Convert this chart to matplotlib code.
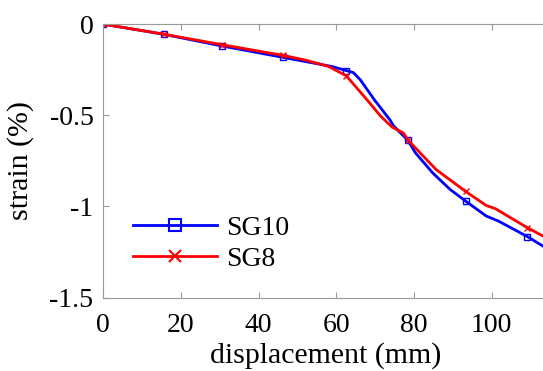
import matplotlib
matplotlib.use("Agg")
from matplotlib import pyplot as plt

# Strain gauge readings against displacement.
disp_sg10 = [0, 15.6, 30.6, 46.2, 59.0, 62.6, 64.4, 66.2, 69.8, 73.8, 74.7,
             78.4, 80.4, 84.8, 89.3, 93.3, 98.6, 101.7, 109.2, 114.0]
strain_sg10 = [0, -0.056, -0.120, -0.182, -0.233, -0.255, -0.266, -0.306,
               -0.415, -0.525, -0.557, -0.637, -0.707, -0.816, -0.907,
               -0.971, -1.053, -1.080, -1.166, -1.228]
marks_sg10 = [0, 1, 2, 3, 5, 11, 15, 18]

disp_sg8 = [0, 15.6, 30.6, 46.2, 52.0, 58.0, 62.6, 67.9, 71.5, 74.4, 77.3,
            78.4, 80.4, 85.7, 93.3, 98.6, 101.0, 109.2, 114.0]
strain_sg8 = [0, -0.055, -0.113, -0.171, -0.197, -0.232, -0.284, -0.415,
              -0.507, -0.565, -0.598, -0.634, -0.680, -0.798, -0.918,
              -0.995, -1.013, -1.117, -1.172]
marks_sg8 = [0, 1, 2, 3, 6, 11, 14, 17]

x_ticks = [0, 20, 40, 60, 80, 100]
y_ticks = [0, -0.5, -1, -1.5]
y_tick_labels = ["0", "-0.5", "-1", "-1.5"]

plt.rcParams['font.family'] = ['Liberation Serif', 'DejaVu Serif']

fig = plt.figure(figsize=(5.43, 3.71), dpi=100)
ax = fig.add_axes([0.190, 0.198, 0.8586, 0.737])

ax.plot(disp_sg10, strain_sg10, c='blue', lw=2, marker='s', ms=5,
        mfc='none', mew=1, markevery=marks_sg10)
ax.plot(disp_sg8, strain_sg8, c='red', lw=2, marker='x', ms=5,
        mew=1, markevery=marks_sg8)

# Legend handles with larger markers.
h1, = ax.plot([], [], c='blue', lw=2, marker='s', ms=8.5, mfc='none', mew=1.5)
h2, = ax.plot([], [], c='red', lw=2, marker='x', ms=8.5, mew=1.5)
ax.legend([h1, h2], ["SG10", "SG8"], loc='center left',
          bbox_to_anchor=(0.063, 0.198), frameon=False, fontsize=20,
          handlelength=3.04, handletextpad=0.34, labelspacing=0.2,
          borderpad=0, borderaxespad=0)

ax.set_xlim(0, 120)
ax.set_ylim(-1.5, 0)
ax.set_xticks(x_ticks)
ax.set_yticks(y_ticks)
ax.set_yticklabels(y_tick_labels)

for side in ax.spines:
    ax.spines[side].set_color('#9a9a9a')
ax.tick_params(axis='both', which='major', direction='in', labelsize=20,
               color='#9a9a9a', length=4, top=True, right=True)
ax.tick_params(axis='x', pad=11)
ax.tick_params(axis='y', pad=7)

ax.set_xlabel("displacement (mm)", fontsize=21.5)
ax.set_ylabel("strain (%)", fontsize=21.5)
ax.xaxis.set_label_coords(0.477, -0.163)
ax.yaxis.set_label_coords(-0.149, 0.5)

fig.savefig("out.png", dpi=100)
